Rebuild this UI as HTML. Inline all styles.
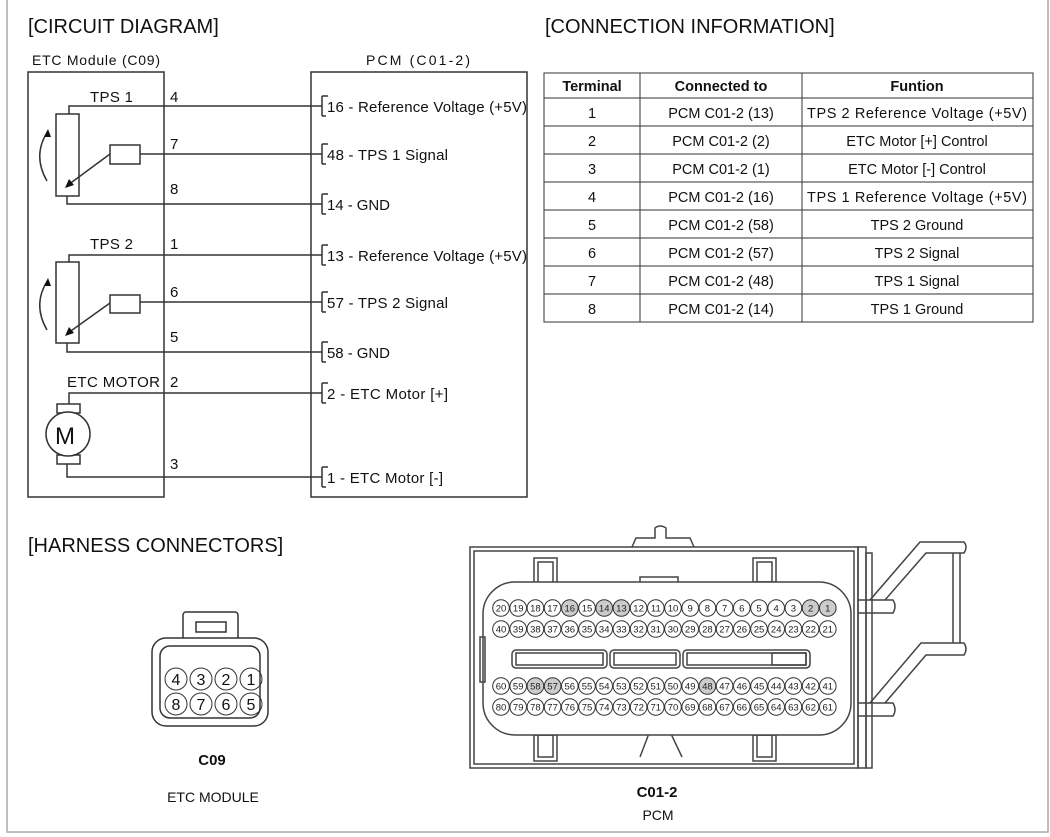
<!DOCTYPE html>
<html><head><meta charset="utf-8"><style>
body{margin:0;background:#fff;}
svg{display:block;font-family:"Liberation Sans",Arial,sans-serif;}
</style></head><body>
<svg width="1050" height="837" viewBox="0 0 1050 837" xmlns="http://www.w3.org/2000/svg">
<rect x="0" y="0" width="1050" height="837" fill="#fff"/>
<rect x="7" y="-2" width="1041" height="834" fill="none" stroke="#aaa" stroke-width="1.5"/>

<g fill="#111" font-size="20">
<text x="28" y="33">[CIRCUIT DIAGRAM]</text>
<text x="545" y="33">[CONNECTION INFORMATION]</text>
<text x="28" y="552">[HARNESS CONNECTORS]</text>
</g>

<g font-size="14" fill="#111">
<text x="32" y="65" textLength="128">ETC Module (C09)</text>
<text x="366" y="65" textLength="104">PCM (C01-2)</text>
</g>

<g fill="none" stroke="#333" stroke-width="1.5">
<rect x="28" y="72" width="136" height="425"/>
<rect x="311" y="72" width="216" height="425"/>
<polyline points="69,114 69,106 322,106"/>
<polyline points="140,154 322,154"/>
<polyline points="67,196 67,204 322,204"/>
<polyline points="69,262 69,255 322,255"/>
<polyline points="140,302 322,302"/>
<polyline points="67,343 67,352 322,352"/>
<polyline points="69,404 69,393 322,393"/>
<polyline points="67,464 67,477 322,477"/>
<path d="M322,96 V116 M322,144 V164 M322,194 V214 M322,245 V265 M322,292 V312 M322,342 V362 M322,383 V403 M322,467 V487"/>
<path d="M322,96 h6 M322,116 h4 M322,144 h6 M322,164 h4 M322,194 h6 M322,214 h4 M322,245 h6 M322,265 h4 M322,292 h6 M322,312 h4 M322,342 h6 M322,362 h4 M322,383 h6 M322,403 h4 M322,467 h6 M322,487 h4"/>
<rect x="56" y="114" width="23" height="82"/>
<rect x="110" y="145" width="30" height="19"/>
<line x1="110" y1="154" x2="68" y2="185"/>
<path d="M47,181 Q32,155 48,131"/>
<rect x="56" y="262" width="23" height="81"/>
<rect x="110" y="295" width="30" height="18"/>
<line x1="110" y1="303" x2="68" y2="333"/>
<path d="M47,330 Q32,304 48,280"/>
<rect x="57" y="404" width="23" height="9"/>
<rect x="57" y="455" width="23" height="9"/>
<circle cx="68" cy="434" r="22" fill="#fff"/>
</g>
<g fill="#111">
<polygon points="65,188 69,179 74,185"/>
<polygon points="48,129 44,137 51,137"/>
<polygon points="65,336 69,327 74,333"/>
<polygon points="48,278 44,286 51,286"/>
</g>
<g font-size="15" fill="#111">
<text x="90" y="102" textLength="43">TPS 1</text>
<text x="90" y="249" textLength="43">TPS 2</text>
<text x="67" y="387" textLength="93">ETC MOTOR</text>
<text x="55" y="444" font-size="24">M</text>
<text x="170" y="102">4</text><text x="170" y="149">7</text><text x="170" y="194">8</text>
<text x="170" y="249">1</text><text x="170" y="297">6</text><text x="170" y="342">5</text>
<text x="170" y="387">2</text><text x="170" y="469">3</text>
<text x="327" y="112" textLength="200">16 - Reference Voltage (+5V)</text>
<text x="327" y="160" textLength="121">48 - TPS 1 Signal</text>
<text x="327" y="210" textLength="63">14 - GND</text>
<text x="327" y="261" textLength="200">13 - Reference Voltage (+5V)</text>
<text x="327" y="308" textLength="121">57 - TPS 2 Signal</text>
<text x="327" y="358" textLength="63">58 - GND</text>
<text x="327" y="399" textLength="121">2 - ETC Motor [+]</text>
<text x="327" y="483" textLength="116">1 - ETC Motor [-]</text>
</g>

<g fill="none" stroke="#333" stroke-width="1">
<rect x="544" y="73" width="489" height="249"/>
<path d="M640,73 V322 M802,73 V322"/>
<path d="M544,98 H1033 M544,126 H1033 M544,154 H1033 M544,182 H1033 M544,210 H1033 M544,238 H1033 M544,266 H1033 M544,294 H1033"/>
</g>
<g font-size="14.5" fill="#111" text-anchor="middle">
<text x="592" y="91" font-weight="bold">Terminal</text>
<text x="721" y="91" font-weight="bold">Connected to</text>
<text x="917" y="91" font-weight="bold">Funtion</text>
<text x="592" y="118">1</text><text x="721" y="118">PCM C01-2 (13)</text><text x="917" y="118" textLength="220">TPS 2 Reference Voltage (+5V)</text>
<text x="592" y="146">2</text><text x="721" y="146">PCM C01-2 (2)</text><text x="917" y="146">ETC Motor [+] Control</text>
<text x="592" y="174">3</text><text x="721" y="174">PCM C01-2 (1)</text><text x="917" y="174">ETC Motor [-] Control</text>
<text x="592" y="202">4</text><text x="721" y="202">PCM C01-2 (16)</text><text x="917" y="202" textLength="220">TPS 1 Reference Voltage (+5V)</text>
<text x="592" y="230">5</text><text x="721" y="230">PCM C01-2 (58)</text><text x="917" y="230">TPS 2 Ground</text>
<text x="592" y="258">6</text><text x="721" y="258">PCM C01-2 (57)</text><text x="917" y="258">TPS 2 Signal</text>
<text x="592" y="286">7</text><text x="721" y="286">PCM C01-2 (48)</text><text x="917" y="286">TPS 1 Signal</text>
<text x="592" y="314">8</text><text x="721" y="314">PCM C01-2 (14)</text><text x="917" y="314">TPS 1 Ground</text>
</g>

<g fill="none" stroke="#333" stroke-width="1.5">
<rect x="183" y="612" width="55" height="30" rx="3" fill="#fff"/>
<rect x="196" y="622" width="30" height="10"/>
<rect x="152" y="638" width="116" height="88" rx="14" fill="#fff"/>
<rect x="160" y="646" width="100" height="72" rx="10"/>
</g>
<g fill="none" stroke="#333" stroke-width="1">
<circle cx="176" cy="679" r="11"/><circle cx="201" cy="679" r="11"/><circle cx="226" cy="679" r="11"/><circle cx="251" cy="679" r="11"/>
<circle cx="176" cy="704" r="11"/><circle cx="201" cy="704" r="11"/><circle cx="226" cy="704" r="11"/><circle cx="251" cy="704" r="11"/>
</g>
<g font-size="16" fill="#111" text-anchor="middle">
<text x="176" y="685">4</text><text x="201" y="685">3</text><text x="226" y="685">2</text><text x="251" y="685">1</text>
<text x="176" y="710">8</text><text x="201" y="710">7</text><text x="226" y="710">6</text><text x="251" y="710">5</text>
<text x="212" y="765" font-weight="bold" font-size="15">C09</text>
<text x="213" y="802" font-size="14">ETC MODULE</text>
<text x="657" y="797" font-weight="bold" font-size="15">C01-2</text>
<text x="658" y="820" font-size="14">PCM</text>
</g>

<g fill="none" stroke="#444" stroke-width="1.5">
<path d="M632,547 L636,538 H655 V528 Q660,524 666,528 V538 H690 L694,547"/>
<rect x="470" y="547" width="388" height="221" fill="#fff"/>
<rect x="474" y="551" width="380" height="213"/>
<rect x="534" y="558" width="23" height="30"/><rect x="538" y="562" width="15" height="26"/>
<rect x="753" y="558" width="23" height="24"/><rect x="757" y="562" width="15" height="20"/>
<rect x="534" y="735" width="23" height="26"/><rect x="538" y="735" width="15" height="22"/>
<rect x="753" y="735" width="23" height="26"/><rect x="757" y="735" width="15" height="22"/>
<path d="M640,588 V577 H678 V588"/>
<path d="M640,757 L648,736 V730 H672 V736 L682,757"/>
<rect x="483" y="582" width="368" height="153" rx="32" fill="#fff"/>
<rect x="480" y="637" width="5" height="45"/>
<rect x="512" y="650" width="95" height="18" rx="4"/>
<rect x="516" y="653" width="87" height="12"/>
<rect x="610" y="650" width="70" height="18" rx="4"/>
<rect x="614" y="653" width="62" height="12"/>
<rect x="683" y="650" width="127" height="18" rx="4"/>
<rect x="687" y="653" width="119" height="12"/>
<rect x="772" y="653" width="34" height="12"/>
<rect x="858" y="547" width="8" height="221"/>
<rect x="866" y="553" width="6" height="215"/>
<path d="M858,600 H893 Q897,606 893,613 H858"/>
<path d="M858,703 H893 Q897,710 893,716 H858"/>
<path d="M870,600 L920,542 H964 Q968,547 964,553 H926 L885,600"/>
<path d="M870,703 L921,643 H964 Q968,649 964,655 H926 L885,703"/>
<path d="M953,553 V643 M960,553 V643"/>
</g>
<g font-size="9.5" text-anchor="middle" fill="#222">
<g stroke="#333" stroke-width="1">
<circle cx="501" cy="608" r="8.3" fill="#fff"/><circle cx="518.2" cy="608" r="8.3" fill="#fff"/><circle cx="535.4" cy="608" r="8.3" fill="#fff"/><circle cx="552.6" cy="608" r="8.3" fill="#fff"/><circle cx="569.8" cy="608" r="8.3" fill="#ccc"/><circle cx="587" cy="608" r="8.3" fill="#fff"/><circle cx="604.2" cy="608" r="8.3" fill="#ccc"/><circle cx="621.4" cy="608" r="8.3" fill="#ccc"/><circle cx="638.6" cy="608" r="8.3" fill="#fff"/><circle cx="655.8" cy="608" r="8.3" fill="#fff"/><circle cx="673" cy="608" r="8.3" fill="#fff"/><circle cx="690.2" cy="608" r="8.3" fill="#fff"/><circle cx="707.4" cy="608" r="8.3" fill="#fff"/><circle cx="724.6" cy="608" r="8.3" fill="#fff"/><circle cx="741.8" cy="608" r="8.3" fill="#fff"/><circle cx="759" cy="608" r="8.3" fill="#fff"/><circle cx="776.2" cy="608" r="8.3" fill="#fff"/><circle cx="793.4" cy="608" r="8.3" fill="#fff"/><circle cx="810.6" cy="608" r="8.3" fill="#ccc"/><circle cx="827.8" cy="608" r="8.3" fill="#ccc"/>
<circle cx="501" cy="629" r="8.3" fill="#fff"/><circle cx="518.2" cy="629" r="8.3" fill="#fff"/><circle cx="535.4" cy="629" r="8.3" fill="#fff"/><circle cx="552.6" cy="629" r="8.3" fill="#fff"/><circle cx="569.8" cy="629" r="8.3" fill="#fff"/><circle cx="587" cy="629" r="8.3" fill="#fff"/><circle cx="604.2" cy="629" r="8.3" fill="#fff"/><circle cx="621.4" cy="629" r="8.3" fill="#fff"/><circle cx="638.6" cy="629" r="8.3" fill="#fff"/><circle cx="655.8" cy="629" r="8.3" fill="#fff"/><circle cx="673" cy="629" r="8.3" fill="#fff"/><circle cx="690.2" cy="629" r="8.3" fill="#fff"/><circle cx="707.4" cy="629" r="8.3" fill="#fff"/><circle cx="724.6" cy="629" r="8.3" fill="#fff"/><circle cx="741.8" cy="629" r="8.3" fill="#fff"/><circle cx="759" cy="629" r="8.3" fill="#fff"/><circle cx="776.2" cy="629" r="8.3" fill="#fff"/><circle cx="793.4" cy="629" r="8.3" fill="#fff"/><circle cx="810.6" cy="629" r="8.3" fill="#fff"/><circle cx="827.8" cy="629" r="8.3" fill="#fff"/>
<circle cx="501" cy="686" r="8.3" fill="#fff"/><circle cx="518.2" cy="686" r="8.3" fill="#fff"/><circle cx="535.4" cy="686" r="8.3" fill="#ccc"/><circle cx="552.6" cy="686" r="8.3" fill="#ccc"/><circle cx="569.8" cy="686" r="8.3" fill="#fff"/><circle cx="587" cy="686" r="8.3" fill="#fff"/><circle cx="604.2" cy="686" r="8.3" fill="#fff"/><circle cx="621.4" cy="686" r="8.3" fill="#fff"/><circle cx="638.6" cy="686" r="8.3" fill="#fff"/><circle cx="655.8" cy="686" r="8.3" fill="#fff"/><circle cx="673" cy="686" r="8.3" fill="#fff"/><circle cx="690.2" cy="686" r="8.3" fill="#fff"/><circle cx="707.4" cy="686" r="8.3" fill="#ccc"/><circle cx="724.6" cy="686" r="8.3" fill="#fff"/><circle cx="741.8" cy="686" r="8.3" fill="#fff"/><circle cx="759" cy="686" r="8.3" fill="#fff"/><circle cx="776.2" cy="686" r="8.3" fill="#fff"/><circle cx="793.4" cy="686" r="8.3" fill="#fff"/><circle cx="810.6" cy="686" r="8.3" fill="#fff"/><circle cx="827.8" cy="686" r="8.3" fill="#fff"/>
<circle cx="501" cy="707" r="8.3" fill="#fff"/><circle cx="518.2" cy="707" r="8.3" fill="#fff"/><circle cx="535.4" cy="707" r="8.3" fill="#fff"/><circle cx="552.6" cy="707" r="8.3" fill="#fff"/><circle cx="569.8" cy="707" r="8.3" fill="#fff"/><circle cx="587" cy="707" r="8.3" fill="#fff"/><circle cx="604.2" cy="707" r="8.3" fill="#fff"/><circle cx="621.4" cy="707" r="8.3" fill="#fff"/><circle cx="638.6" cy="707" r="8.3" fill="#fff"/><circle cx="655.8" cy="707" r="8.3" fill="#fff"/><circle cx="673" cy="707" r="8.3" fill="#fff"/><circle cx="690.2" cy="707" r="8.3" fill="#fff"/><circle cx="707.4" cy="707" r="8.3" fill="#fff"/><circle cx="724.6" cy="707" r="8.3" fill="#fff"/><circle cx="741.8" cy="707" r="8.3" fill="#fff"/><circle cx="759" cy="707" r="8.3" fill="#fff"/><circle cx="776.2" cy="707" r="8.3" fill="#fff"/><circle cx="793.4" cy="707" r="8.3" fill="#fff"/><circle cx="810.6" cy="707" r="8.3" fill="#fff"/><circle cx="827.8" cy="707" r="8.3" fill="#fff"/>
</g>
<text x="501" y="611.5">20</text><text x="518.2" y="611.5">19</text><text x="535.4" y="611.5">18</text><text x="552.6" y="611.5">17</text><text x="569.8" y="611.5">16</text><text x="587" y="611.5">15</text><text x="604.2" y="611.5">14</text><text x="621.4" y="611.5">13</text><text x="638.6" y="611.5">12</text><text x="655.8" y="611.5">11</text><text x="673" y="611.5">10</text><text x="690.2" y="611.5">9</text><text x="707.4" y="611.5">8</text><text x="724.6" y="611.5">7</text><text x="741.8" y="611.5">6</text><text x="759" y="611.5">5</text><text x="776.2" y="611.5">4</text><text x="793.4" y="611.5">3</text><text x="810.6" y="611.5">2</text><text x="827.8" y="611.5">1</text>
<text x="501" y="632.5">40</text><text x="518.2" y="632.5">39</text><text x="535.4" y="632.5">38</text><text x="552.6" y="632.5">37</text><text x="569.8" y="632.5">36</text><text x="587" y="632.5">35</text><text x="604.2" y="632.5">34</text><text x="621.4" y="632.5">33</text><text x="638.6" y="632.5">32</text><text x="655.8" y="632.5">31</text><text x="673" y="632.5">30</text><text x="690.2" y="632.5">29</text><text x="707.4" y="632.5">28</text><text x="724.6" y="632.5">27</text><text x="741.8" y="632.5">26</text><text x="759" y="632.5">25</text><text x="776.2" y="632.5">24</text><text x="793.4" y="632.5">23</text><text x="810.6" y="632.5">22</text><text x="827.8" y="632.5">21</text>
<text x="501" y="689.5">60</text><text x="518.2" y="689.5">59</text><text x="535.4" y="689.5">58</text><text x="552.6" y="689.5">57</text><text x="569.8" y="689.5">56</text><text x="587" y="689.5">55</text><text x="604.2" y="689.5">54</text><text x="621.4" y="689.5">53</text><text x="638.6" y="689.5">52</text><text x="655.8" y="689.5">51</text><text x="673" y="689.5">50</text><text x="690.2" y="689.5">49</text><text x="707.4" y="689.5">48</text><text x="724.6" y="689.5">47</text><text x="741.8" y="689.5">46</text><text x="759" y="689.5">45</text><text x="776.2" y="689.5">44</text><text x="793.4" y="689.5">43</text><text x="810.6" y="689.5">42</text><text x="827.8" y="689.5">41</text>
<text x="501" y="710.5">80</text><text x="518.2" y="710.5">79</text><text x="535.4" y="710.5">78</text><text x="552.6" y="710.5">77</text><text x="569.8" y="710.5">76</text><text x="587" y="710.5">75</text><text x="604.2" y="710.5">74</text><text x="621.4" y="710.5">73</text><text x="638.6" y="710.5">72</text><text x="655.8" y="710.5">71</text><text x="673" y="710.5">70</text><text x="690.2" y="710.5">69</text><text x="707.4" y="710.5">68</text><text x="724.6" y="710.5">67</text><text x="741.8" y="710.5">66</text><text x="759" y="710.5">65</text><text x="776.2" y="710.5">64</text><text x="793.4" y="710.5">63</text><text x="810.6" y="710.5">62</text><text x="827.8" y="710.5">61</text>
</g>
</svg>
</body></html>
